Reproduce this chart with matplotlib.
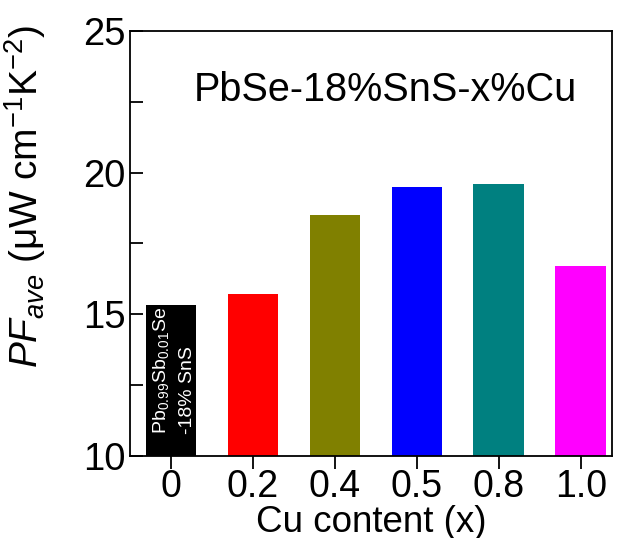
import matplotlib
matplotlib.use("Agg")
import matplotlib.pyplot as plt
from matplotlib.ticker import MultipleLocator

plt.rcParams['font.family'] = ['Liberation Sans', 'DejaVu Sans']
plt.rcParams['mathtext.fontset'] = 'custom'
plt.rcParams['mathtext.rm'] = 'Liberation Sans'
plt.rcParams['mathtext.it'] = 'Liberation Sans:italic'
plt.rcParams['mathtext.bf'] = 'Liberation Sans:bold'

categories = ['0', '0.2', '0.4', '0.5', '0.8', '1.0']
values = [15.33, 15.72, 18.5, 19.5, 19.6, 16.7]
colors = ['#000000', '#ff0000', '#808000', '#0000ff', '#008080', '#ff00ff']

fig = plt.figure(figsize=(6.22, 5.38), dpi=100)
ax = fig.add_axes([0.209, 0.1524, 0.775, 0.79])

x = list(range(len(categories)))
ax.bar(x, [v - 10 for v in values], bottom=10, width=0.62, color=colors)

ax.set_xlim(-0.5, 5.38)
ax.set_ylim(10, 25)
ax.set_xticks(x)
ax.set_xticklabels(categories)
ax.yaxis.set_major_locator(MultipleLocator(5))
ax.yaxis.set_minor_locator(MultipleLocator(2.5))

for s in ax.spines.values():
    s.set_linewidth(1.3)

ax.tick_params(axis='x', direction='out', length=9, width=1.3, labelsize=27, pad=0)
ax.tick_params(axis='y', which='both', direction='in', length=9, width=1.3, labelsize=27.5, pad=3)

ax.set_xlabel('Cu content (x)', fontsize=26.5, labelpad=0)
ax.set_ylabel(r'$\mathit{PF}_{ave}$ (μW cm$^{-1}$K$^{-2}$)', fontsize=28)
ax.yaxis.set_label_coords(-0.17, 0.61)

ax.text(0.28, 22.9, 'PbSe-18%SnS-x%Cu', fontsize=28.5, va='center', ha='left')

ax.text(0.03, 10.78, 'Pb$_{0.99}$Sb$_{0.01}$Se\n-18% SnS', rotation=90,
        color='white', fontsize=14, ha='center', va='bottom',
        multialignment='left', linespacing=1.65)

fig.savefig('out.png', dpi=100, facecolor='white')
